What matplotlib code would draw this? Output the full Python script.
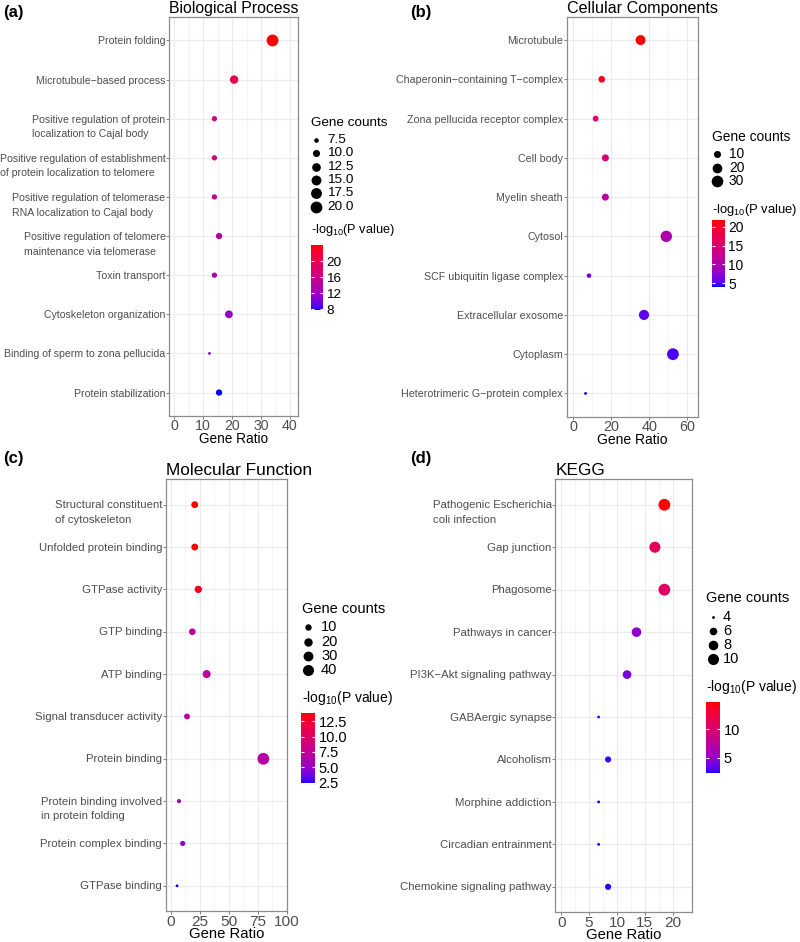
import numpy as np
import matplotlib
matplotlib.use("Agg")
import matplotlib.pyplot as plt
from matplotlib.colors import ListedColormap, Normalize
from matplotlib.cm import ScalarMappable

plt.rcParams['font.family'] = ['Liberation Sans', 'DejaVu Sans']
plt.rcParams['mathtext.fontset'] = 'custom'
plt.rcParams['mathtext.rm'] = 'Liberation Sans'
plt.rcParams['mathtext.it'] = 'Liberation Sans:italic'

# --- data ---
bp_terms = ["Protein folding", "Microtubule\u2212based process",
            "Positive regulation of protein\nlocalization to Cajal body",
            "Positive regulation of establishment\nof protein localization to telomere",
            "Positive regulation of telomerase\nRNA localization to Cajal body",
            "Positive regulation of telomere\nmaintenance via telomerase",
            "Toxin transport", "Cytoskeleton organization",
            "Binding of sperm to zona pellucida", "Protein stabilization"]
bp_ratio = [34.0, 20.7, 13.9, 13.9, 13.9, 15.5, 13.9, 18.9, 12.2, 15.5]
bp_count = [20, 12, 8, 8, 8, 9, 8, 11, 7, 9]
bp_logp = [24.0, 20.8, 16.8, 16.5, 15.5, 14.0, 13.0, 11.5, 10.0, 7.8]

cc_terms = ["Microtubule", "Chaperonin\u2212containing T\u2212complex",
            "Zona pellucida receptor complex", "Cell body", "Myelin sheath",
            "Cytosol", "SCF ubiquitin ligase complex", "Extracellular exosome",
            "Cytoplasm", "Heterotrimeric G\u2212protein complex"]
cc_ratio = [35.5, 15.1, 11.9, 17.0, 17.0, 49.0, 8.4, 37.3, 52.5, 6.6]
cc_count = [21, 9, 7, 10, 10, 29, 5, 22, 31, 4]
cc_logp = [21.8, 20.5, 15.0, 14.0, 11.5, 10.0, 6.0, 5.5, 5.0, 4.1]

mf_terms = ["Structural constituent\nof cytoskeleton", "Unfolded protein binding",
            "GTPase activity", "GTP binding", "ATP binding",
            "Signal transducer activity", "Protein binding",
            "Protein binding involved\nin protein folding",
            "Protein complex binding", "GTPase binding"]
mf_ratio = [20.5, 20.5, 23.6, 18.4, 30.8, 13.8, 79.8, 6.9, 10.1, 5.2]
mf_count = [12, 12, 14, 11, 18, 8, 47, 4, 6, 3]
mf_logp = [13.9, 13.8, 13.3, 7.5, 7.0, 7.0, 6.8, 6.5, 4.5, 2.4]

kegg_terms = ["Pathogenic Escherichia\ncoli infection", "Gap junction", "Phagosome",
              "Pathways in cancer", "PI3K\u2212Akt signaling pathway",
              "GABAergic synapse", "Alcoholism", "Morphine addiction",
              "Circadian entrainment", "Chemokine signaling pathway"]
kegg_ratio = [18.5, 16.8, 18.5, 13.5, 11.8, 6.7, 8.4, 6.7, 6.7, 8.4]
kegg_count = [11, 10, 11, 8, 7, 4, 5, 4, 4, 5]
kegg_logp = [14.7, 11.2, 10.6, 5.0, 4.0, 2.5, 2.7, 2.3, 2.3, 2.5]


# blue -> red gradient interpolated in CIELAB (like ggplot's scale_colour_gradient)
WHITE = np.array([0.95047, 1.0, 1.08883])
M = np.array([[0.4124, 0.3576, 0.1805],
              [0.2126, 0.7152, 0.0722],
              [0.0193, 0.1192, 0.9505]])


def to_lab(rgb):
    c = np.asarray(rgb, float)
    c = np.where(c <= 0.04045, c / 12.92, ((c + 0.055) / 1.055) ** 2.4)
    t = M @ c / WHITE
    f = np.where(t > (6 / 29) ** 3, np.cbrt(t), t / (3 * (6 / 29) ** 2) + 4 / 29)
    return np.array([116 * f[1] - 16, 500 * (f[0] - f[1]), 200 * (f[1] - f[2])])


def from_lab(lab):
    L, a, b = lab
    fy = (L + 16) / 116
    f = np.array([fy + a / 500, fy, fy - b / 200])
    t = np.where(f > 6 / 29, f ** 3, 3 * (6 / 29) ** 2 * (f - 4 / 29)) * WHITE
    c = np.linalg.solve(M, t)
    c = np.where(c <= 0.0031308, 12.92 * c, 1.055 * np.clip(c, 0, None) ** (1 / 2.4) - 0.055)
    return np.clip(c, 0, 1)


lo_lab, hi_lab = to_lab([0, 0, 1]), to_lab([1, 0, 0])
cmap = ListedColormap([from_lab(lo_lab + (hi_lab - lo_lab) * k)
                       for k in np.linspace(0, 1, 256)])

W, H = 800, 942
fig = plt.figure(figsize=(8, 9.42), dpi=100)


def px_box(l, t, r, b):
    return [l / W, 1 - b / H, (r - l) / W, (b - t) / H]


# overlay in pixel units for legends and panel tags
lay = fig.add_axes([0, 0, 1, 1])
lay.set_xlim(0, W)
lay.set_ylim(H, 0)
lay.axis('off')


def dot_area(counts, lo, hi):
    t = (np.asarray(counts, float) - lo) / (hi - lo)
    d = 2.8 + 9.0 * np.sqrt(np.clip(t, 0, 1))
    return (d * 0.72) ** 2


def dot_panel(title, terms, ratio, count, logp, box, xlim, xticks,
              size_breaks, size_labels, cb_ticks, cb_labels, lg, fs=1.0):
    ax = fig.add_axes(px_box(*box))
    n = len(terms)
    y = np.arange(n)[::-1]
    lo, hi = min(count), max(count)
    norm = Normalize(min(logp), max(logp))
    ax.scatter(ratio, y, s=dot_area(count, lo, hi), c=logp, cmap=cmap, norm=norm,
               linewidths=0, zorder=3)
    ax.set_xlim(*xlim)
    ax.set_ylim(-0.6, n - 0.4)
    ax.set_xticks(xticks)
    step = xticks[1] - xticks[0]
    ax.set_xticks([v + step / 2 for v in xticks[:-1]], minor=True)
    ax.set_yticks(y)
    ax.tick_params(axis='y', labelleft=False)
    # term labels: first line sits on the row, extra lines hang below
    lab_fs = 7.55 * fs
    for yi, term in zip(y, terms):
        ax.annotate(term, xy=(0, yi), xycoords=ax.get_yaxis_transform(),
                    xytext=(-2.6, 0.38 * lab_fs), textcoords='offset points',
                    ha='right', va='top', multialignment='left', linespacing=1.58,
                    fontsize=lab_fs, color='#4D4D4D', annotation_clip=False)
    ax.grid(which='major', color='#EBEBEB', lw=0.8)
    ax.grid(which='minor', axis='x', color='#F3F3F3', lw=0.6)
    ax.set_axisbelow(True)
    for s in ax.spines.values():
        s.set_color('#8C8C8C')
        s.set_linewidth(0.9)
    ax.tick_params(which='major', color='#7F7F7F', length=2.0, width=0.7,
                   labelcolor='#4D4D4D')
    ax.tick_params(which='minor', length=0)
    ax.tick_params(axis='x', labelsize=10.2 * fs, pad=0.5)
    ax.set_xlabel("Gene Ratio", fontsize=9.8 * fs, labelpad=-1)
    ax.set_title(title, loc='left', fontsize=11.4 * fs, pad=2.8)

    # size legend
    leg_fs = 9.7 * fs
    x0 = lg['x']
    lay.text(x0, lg['title_y'], "Gene counts", fontsize=leg_fs, va='center')
    for k, (b, lab) in enumerate(zip(size_breaks, size_labels)):
        yk = lg['row0'] + k * lg['step']
        lay.scatter([x0 + lg['dot']], [yk], s=dot_area([b], lo, hi), color='black',
                    linewidths=0)
        lay.text(x0 + lg['txt'], yk, lab, fontsize=leg_fs, va='center')

    # colour legend
    lay.text(x0, lg['cbtitle_y'], r'-log$_{\mathregular{10}}$(P value)',
             fontsize=leg_fs * 0.95, va='center')
    cax = fig.add_axes(px_box(*lg['cb']))
    cb = fig.colorbar(ScalarMappable(norm=norm, cmap=cmap), cax=cax, ticks=cb_ticks)
    cb.set_ticklabels(cb_labels)
    cb.outline.set_visible(False)
    cb.minorticks_off()
    cax.tick_params(color='white', direction='in', length=2.5, width=0.8,
                    labelsize=leg_fs, pad=2.5, left=True, right=True)
    return ax


dot_panel("Biological Process", bp_terms, bp_ratio, bp_count, bp_logp,
          (169, 17, 298, 416), (-1.8, 42.8), [0, 10, 20, 30, 40],
          [7.5, 10, 12.5, 15, 17.5, 20], ["7.5", "10.0", "12.5", "15.0", "17.5", "20.0"],
          [8, 12, 16, 20], ["8", "12", "16", "20"],
          dict(x=311, title_y=123, row0=140, step=13.3, dot=5, txt=16,
               cbtitle_y=230, cb=(311, 245, 323, 310)))

dot_panel("Cellular Components", cc_terms, cc_ratio, cc_count, cc_logp,
          (566.7, 16.5, 697.7, 417), (-3.3, 65.5), [0, 20, 40, 60],
          [10, 20, 30], ["10", "20", "30"],
          [5, 10, 15, 20], ["5", "10", "15", "20"],
          dict(x=712, title_y=137, row0=154.3, step=13.3, dot=5, txt=17,
               cbtitle_y=210, cb=(711.7, 220, 725, 286.7)), fs=1.02)

dot_panel("Molecular Function", mf_terms, mf_ratio, mf_count, mf_logp,
          (165.7, 479.3, 287.3, 911.2), (-4.6, 100.5), [0, 25, 50, 75, 100],
          [10, 20, 30, 40], ["10", "20", "30", "40"],
          [2.5, 5, 7.5, 10, 12.5], ["2.5", "5.0", "7.5", "10.0", "12.5"],
          dict(x=302, title_y=609, row0=627.3, step=14.3, dot=6, txt=19,
               cbtitle_y=697.7, cb=(301, 712.7, 315, 783.3)), fs=1.09)

dot_panel("KEGG", kegg_terms, kegg_ratio, kegg_count, kegg_logp,
          (555.3, 479.3, 691.7, 912.3), (-1.07, 23.4), [0, 5, 10, 15, 20],
          [4, 6, 8, 10], ["4", "6", "8", "10"],
          [5, 10], ["5", "10"],
          dict(x=706, title_y=598.3, row0=616.7, step=14.2, dot=7.3, txt=17,
               cbtitle_y=687.3, cb=(705.7, 702, 720, 773.3)), fs=1.09)

# panel tags
for tag, tx, ty in [("(a)", 3, 12), ("(b)", 410, 12), ("(c)", 3, 458), ("(d)", 410, 458)]:
    lay.text(tx, ty, tag, fontsize=12, fontweight='bold', va='center')

fig.savefig("out.png", dpi=100)
